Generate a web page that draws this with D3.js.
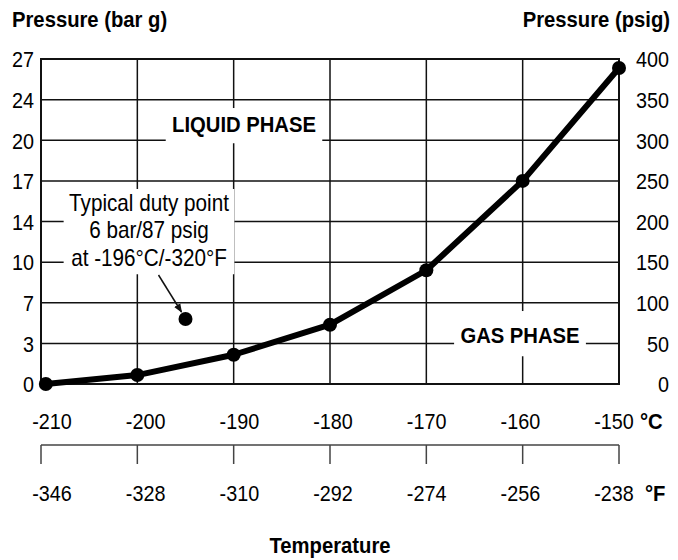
<!DOCTYPE html>
<html>
<head>
<meta charset="utf-8">
<script src="https://cdn.jsdelivr.net/npm/d3@7"></script>
<style>
  body { margin: 0; background: #fff; }
  svg { display: block; font-family: "Liberation Sans", Arial, sans-serif; }
  .bold { font-weight: 700; }
</style>
</head>
<body>
<div id="chart"></div>
<script>
// Vapour pressure curve
const curveTempC = [-209.5, -200, -190, -180, -170, -160, -150];
const curvePsig = [0, 11, 36, 73, 140, 250, 389];

// Duty point marker
const dutyTempC = -195;
const dutyPsig = 80;
const dutyLines = ['Typical duty point', '6 bar/87 psig', 'at -196°C/-320°F'];

// Axis ticks
const ticksC = [-210, -200, -190, -180, -170, -160, -150];
const ticksF = [-346, -328, -310, -292, -274, -256, -238];
const ticksPsig = [0, 50, 100, 150, 200, 250, 300, 350, 400];
const labelsBar = ['0', '3', '7', '10', '14', '17', '20', '24', '27'];

const width = 678;
const height = 560;
const margin = { top: 59, right: 59, bottom: 176, left: 41 };
const squeeze = 0.9; // condensed look

const svg = d3.select('#chart').append('svg')
  .attr('width', width)
  .attr('height', height);

const x = d3.scaleLinear()
  .domain([-210, -150])
  .range([margin.left, width - margin.right]);

// tick labels sit a little inside the grid in the original
const xLabel = d3.scaleLinear()
  .domain([-210, -150])
  .range([52, 614]);

const y = d3.scaleLinear()
  .domain([0, 400])
  .range([height - margin.bottom, margin.top]);

const fToC = f => (f - 32) / 1.8;
const place = (px, py) => `translate(${px},${py}) scale(${squeeze},1)`;

// Grid
const grid = svg.append('g').attr('stroke', '#111').attr('stroke-width', 1.5);

grid.selectAll('.hline')
  .data(ticksPsig)
  .join('line')
  .attr('x1', x.range()[0])
  .attr('x2', x.range()[1])
  .attr('y1', d => y(d))
  .attr('y2', d => y(d));

grid.selectAll('.vline')
  .data(ticksC)
  .join('line')
  .attr('x1', d => x(d))
  .attr('x2', d => x(d))
  .attr('y1', y.range()[0])
  .attr('y2', y.range()[1]);

svg.append('rect')
  .attr('x', x.range()[0])
  .attr('y', y.range()[1])
  .attr('width', x.range()[1] - x.range()[0])
  .attr('height', y.range()[0] - y.range()[1])
  .attr('fill', 'none')
  .attr('stroke', '#111')
  .attr('stroke-width', 2);

// Labels with white boxes that knock out the grid
function boxedText(lines, cx, firstBaseline, lineHeight, cls, size, pad) {
  const g = svg.append('g').attr('transform', place(cx, firstBaseline));
  const box = g.append('rect').attr('fill', '#fff');
  const t = g.append('text')
    .attr('class', cls)
    .attr('text-anchor', 'middle')
    .style('font-size', size + 'px');
  lines.forEach((line, i) => {
    t.append('tspan')
      .attr('x', 0)
      .attr('y', i * lineHeight)
      .text(line);
  });
  const bb = t.node().getBBox();
  box.attr('x', bb.x - pad[0])
    .attr('y', bb.y - pad[1])
    .attr('width', bb.width + pad[0] * 2)
    .attr('height', bb.height + pad[1] + pad[2]);
  return g;
}

boxedText(['LIQUID PHASE'], 244, 132, 0, 'bold', 22.5, [7, 4, 6]);
boxedText(['GAS PHASE'], 520, 343, 0, 'bold', 22.5, [7, 12, 8]);
boxedText(dutyLines, 149, 211, 27.5, '', 23, [6, 1, 3]);

// Arrow pointing at the duty point
svg.append('defs').append('marker')
  .attr('id', 'arrow')
  .attr('viewBox', '0 0 10 10')
  .attr('refX', 9)
  .attr('refY', 5)
  .attr('markerWidth', 6)
  .attr('markerHeight', 6)
  .attr('orient', 'auto')
  .append('path')
  .attr('d', 'M0,1 L10,5 L0,9 Z')
  .attr('fill', '#111');

svg.append('line')
  .attr('x1', x(dutyTempC) - 27)
  .attr('y1', y(dutyPsig) - 44)
  .attr('x2', x(dutyTempC) - 4)
  .attr('y2', y(dutyPsig) - 7)
  .attr('stroke', '#111')
  .attr('stroke-width', 1.5)
  .attr('marker-end', 'url(#arrow)');

svg.append('circle')
  .attr('cx', x(dutyTempC))
  .attr('cy', y(dutyPsig))
  .attr('r', 7)
  .attr('fill', '#000');

// Curve
const points = curveTempC.map((t, i) => [t, curvePsig[i]]);

svg.append('path')
  .datum(points)
  .attr('fill', 'none')
  .attr('stroke', '#000')
  .attr('stroke-width', 6)
  .attr('stroke-linejoin', 'round')
  .attr('d', d3.line().x(d => x(d[0])).y(d => y(d[1])));

svg.selectAll('.dot')
  .data(points)
  .join('circle')
  .attr('cx', d => x(d[0]))
  .attr('cy', d => y(d[1]))
  .attr('r', 7)
  .attr('fill', '#000');

// Left (bar g) and right (psig) tick labels
svg.selectAll('.bar-label')
  .data(ticksPsig)
  .join('text')
  .attr('transform', d => place(34, y(d)))
  .attr('dy', '0.38em')
  .attr('text-anchor', 'end')
  .style('font-size', '22px')
  .text((d, i) => labelsBar[i]);

svg.selectAll('.psig-label')
  .data(ticksPsig)
  .join('text')
  .attr('transform', d => place(669, y(d)))
  .attr('dy', '0.38em')
  .attr('text-anchor', 'end')
  .style('font-size', '22px')
  .text(d => d);

// Celsius labels
svg.selectAll('.c-label')
  .data(ticksC)
  .join('text')
  .attr('transform', d => place(xLabel(d), 429))
  .attr('text-anchor', 'middle')
  .style('font-size', '22px')
  .text(d => d);

svg.append('text')
  .attr('class', 'bold')
  .attr('transform', place(640, 429))
  .style('font-size', '22.5px')
  .text('°C');

// Fahrenheit bracket
const fAxis = svg.append('g').attr('stroke', '#444').attr('stroke-width', 1.5);
fAxis.append('line')
  .attr('x1', x(fToC(ticksF[0])))
  .attr('x2', x(fToC(ticksF[ticksF.length - 1])))
  .attr('y1', 445)
  .attr('y2', 445);
fAxis.selectAll('.ftick')
  .data(ticksF)
  .join('line')
  .attr('x1', d => x(fToC(d)))
  .attr('x2', d => x(fToC(d)))
  .attr('y1', 445)
  .attr('y2', 464);

svg.selectAll('.f-label')
  .data(ticksF)
  .join('text')
  .attr('transform', d => place(xLabel(fToC(d)), 501))
  .attr('text-anchor', 'middle')
  .style('font-size', '22px')
  .text(d => d);

svg.append('text')
  .attr('class', 'bold')
  .attr('transform', place(645, 501))
  .style('font-size', '22.5px')
  .text('°F');

// Titles
svg.append('text')
  .attr('class', 'bold')
  .attr('transform', place(12, 27))
  .style('font-size', '22.5px')
  .text('Pressure (bar g)');

svg.append('text')
  .attr('class', 'bold')
  .attr('transform', place(670, 27))
  .attr('text-anchor', 'end')
  .style('font-size', '22.5px')
  .text('Pressure (psig)');

svg.append('text')
  .attr('class', 'bold')
  .attr('transform', place((x.range()[0] + x.range()[1]) / 2, 553))
  .attr('text-anchor', 'middle')
  .style('font-size', '22.5px')
  .text('Temperature');
</script>
</body>
</html>
